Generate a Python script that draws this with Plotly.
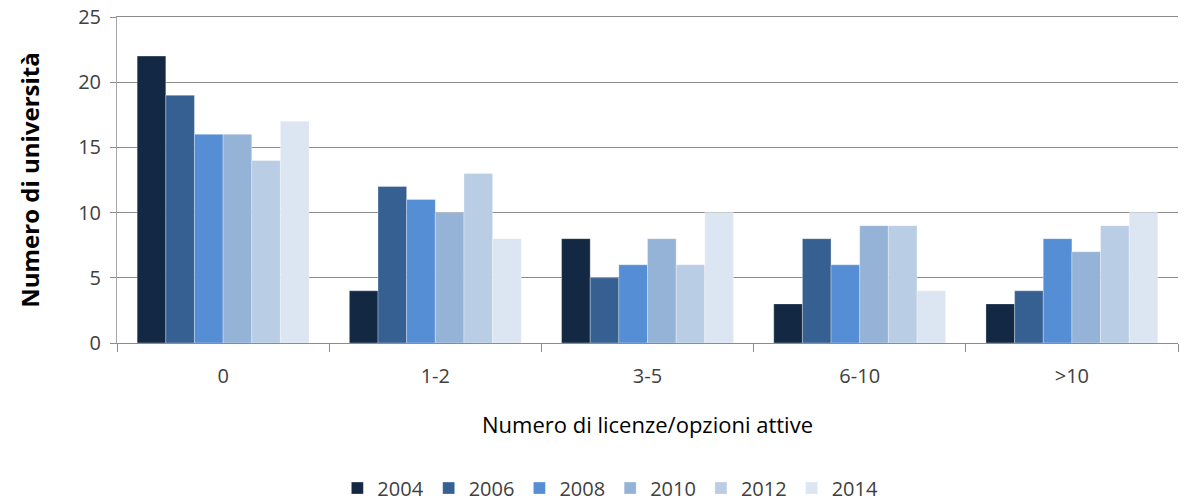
import plotly.graph_objects as go

categories = ["0", "1-2", "3-5", "6-10", ">10"]
years = ["2004", "2006", "2008", "2010", "2012", "2014"]
values = {
    "2004": [22, 4, 8, 3, 3],
    "2006": [19, 12, 5, 8, 4],
    "2008": [16, 11, 6, 6, 8],
    "2010": [16, 10, 8, 9, 7],
    "2012": [14, 13, 6, 9, 9],
    "2014": [17, 8, 10, 4, 10],
}
colors = ["#132843", "#376092", "#558ED5", "#95B3D7", "#B9CDE5", "#DCE6F2"]
y_ticks = [0, 5, 10, 15, 20, 25]

fig = go.Figure()
for yr, col in zip(years, colors):
    fig.add_trace(go.Bar(
        name=yr, x=categories, y=values[yr],
        marker=dict(color=col, line=dict(color="rgba(255,255,255,0.6)", width=0.5)),
    ))

font = "'Open Sans', sans-serif"
fig.update_layout(
    width=1186, height=501,
    margin=dict(l=117, r=8, t=17, b=158, autoexpand=False),
    paper_bgcolor="white", plot_bgcolor="white",
    barmode="group", bargap=0.19, bargroupgap=0,
    font=dict(family=font, size=19, color="#404040"),
    showlegend=True,
    legend=dict(orientation="h", x=0.465, xanchor="center", y=-0.445, yanchor="middle",
                font=dict(size=20, color="#404040"), itemwidth=30, traceorder="normal"),
    xaxis=dict(
        title=dict(text="Numero di licenze/opzioni attive", font=dict(size=22, color="#000000"), standoff=29),
        showline=True, linecolor="#8c8c8c", linewidth=1, automargin=False, mirror=True,
        tickfont=dict(size=20, color="#404040"), ticklabelstandoff=15,
        tickson="boundaries", ticks="outside", ticklen=8, tickcolor="#8c8c8c",
    ),
    yaxis=dict(
        title=dict(text="<b>Numero di università</b>", font=dict(size=24, color="#000000"), standoff=31),
        range=[0, 25], tickvals=y_ticks, showgrid=True, gridcolor="#8c8c8c", gridwidth=1,
        showline=True, linecolor="#a6a6a6", linewidth=1, automargin=False,
        ticks="outside", ticklen=6, tickcolor="#8c8c8c", ticklabelstandoff=5,
        tickfont=dict(size=20, color="#404040"), zeroline=False,
    ),
)

# remove the default 8px page margin so the figure sits at the window's top-left corner
fig.write_html("out.html", config={"displayModeBar": False},
               post_script="document.body.style.margin='0';")
